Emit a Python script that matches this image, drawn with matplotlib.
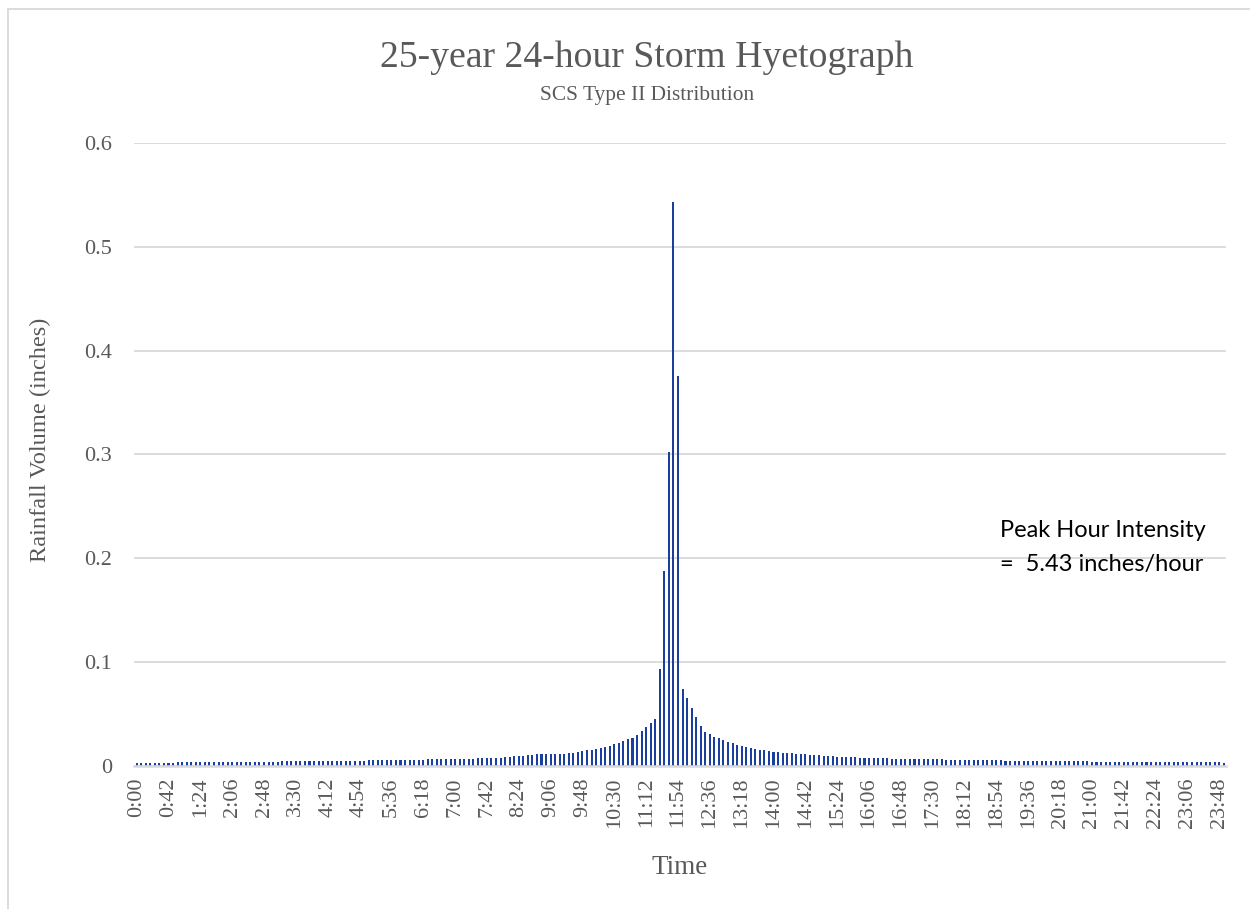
import matplotlib
matplotlib.use("Agg")
import matplotlib.pyplot as plt
import numpy as np
from matplotlib.patches import Rectangle

# 6-minute rainfall depths (inches), 0:00 .. 23:54
rainfall = [
    0.0030, 0.0030, 0.0030, 0.0031, 0.0031, 0.0032, 0.0032, 0.0033, 0.0033, 0.0034,
    0.0034, 0.0035, 0.0035, 0.0036, 0.0036, 0.0037, 0.0037, 0.0037, 0.0038, 0.0038,
    0.0039, 0.0039, 0.0039, 0.0040, 0.0040, 0.0040, 0.0041, 0.0041, 0.0042, 0.0042,
    0.0043, 0.0043, 0.0044, 0.0044, 0.0044, 0.0045, 0.0045, 0.0046, 0.0046, 0.0047,
    0.0047, 0.0048, 0.0048, 0.0049, 0.0049, 0.0050, 0.0050, 0.0051, 0.0052, 0.0052,
    0.0053, 0.0054, 0.0054, 0.0055, 0.0056, 0.0056, 0.0057, 0.0058, 0.0059, 0.0059,
    0.0060, 0.0061, 0.0062, 0.0062, 0.0063, 0.0064, 0.0065, 0.0066, 0.0067, 0.0067,
    0.0068, 0.0069, 0.0070, 0.0071, 0.0072, 0.0073, 0.0074, 0.0075, 0.0076, 0.0078,
    0.0081, 0.0084, 0.0088, 0.0092, 0.0096, 0.0100, 0.0105, 0.0110, 0.0114, 0.0115,
    0.0116, 0.0116, 0.0116, 0.0116, 0.0117, 0.0123, 0.0129, 0.0135, 0.0142, 0.0151,
    0.0158, 0.0167, 0.0177, 0.0187, 0.0195, 0.0209, 0.0223, 0.0242, 0.0258, 0.0272,
    0.0297, 0.0335, 0.0374, 0.0413, 0.0450, 0.0939, 0.1876, 0.3020, 0.5430, 0.3760,
    0.0745, 0.0655, 0.0561, 0.0472, 0.0385, 0.0330, 0.0304, 0.0284, 0.0265, 0.0246,
    0.0230, 0.0217, 0.0206, 0.0194, 0.0185, 0.0176, 0.0166, 0.0156, 0.0150, 0.0143,
    0.0137, 0.0133, 0.0128, 0.0125, 0.0122, 0.0119, 0.0116, 0.0113, 0.0110, 0.0107,
    0.0104, 0.0099, 0.0097, 0.0094, 0.0091, 0.0089, 0.0087, 0.0085, 0.0083, 0.0081,
    0.0080, 0.0079, 0.0077, 0.0076, 0.0075, 0.0074, 0.0072, 0.0071, 0.0070, 0.0069,
    0.0068, 0.0067, 0.0066, 0.0066, 0.0065, 0.0064, 0.0063, 0.0063, 0.0062, 0.0061,
    0.0060, 0.0060, 0.0059, 0.0058, 0.0058, 0.0057, 0.0056, 0.0056, 0.0055, 0.0055,
    0.0054, 0.0053, 0.0053, 0.0052, 0.0052, 0.0051, 0.0050, 0.0050, 0.0049, 0.0049,
    0.0048, 0.0048, 0.0047, 0.0047, 0.0046, 0.0046, 0.0045, 0.0045, 0.0044, 0.0044,
    0.0043, 0.0043, 0.0043, 0.0042, 0.0042, 0.0041, 0.0041, 0.0041, 0.0040, 0.0040,
    0.0039, 0.0039, 0.0039, 0.0038, 0.0038, 0.0038, 0.0037, 0.0037, 0.0037, 0.0036,
    0.0036, 0.0036, 0.0035, 0.0035, 0.0035, 0.0034, 0.0034, 0.0034, 0.0034, 0.0033,
]

# category labels: start of each 6-minute interval
times = ["%d:%02d" % divmod(m, 60) for m in range(0, 24 * 60, 6)]
label_step = 7
y_ticks = [0, 0.1, 0.2, 0.3, 0.4, 0.5, 0.6]
y_ticklabels = ["0", "0.1", "0.2", "0.3", "0.4", "0.5", "0.6"]

title = "25-year 24-hour Storm Hyetograph"
subtitle = "SCS Type II Distribution"
note = ["Peak Hour Intensity", "=  5.43 inches/hour"]

serif = ["Liberation Serif", "DejaVu Serif"]
sans = ["Lato", "DejaVu Sans"]
grey = "#595959"
grid_col = "#d9d9d9"
bar_col = "#1b3f9e"

fig = plt.figure(figsize=(12.5, 9.09), dpi=100)
ax = fig.add_axes([0.1075, 0.1573, 0.8734, 0.6854])

x = np.arange(len(rainfall))
ax.bar(x, rainfall, width=0.45, color=bar_col, zorder=3)

ax.set_xlim(-0.5, len(rainfall) - 0.5)
ax.set_ylim(0, 0.6)
ax.set_yticks(y_ticks)
ax.set_yticklabels(y_ticklabels, family=serif, fontsize=16, color=grey)
ax.set_xticks(x[::label_step])
ax.set_xticklabels(times[::label_step], rotation=90, family=serif,
                   fontsize=16, color=grey)
ax.tick_params(axis="y", length=0, pad=16)
ax.tick_params(axis="x", length=0, pad=8)

ax.grid(axis="y", color=grid_col, linewidth=1.3, zorder=0)
for s in ["left", "right", "top"]:
    ax.spines[s].set_visible(False)
ax.spines["bottom"].set_color(grid_col)
ax.spines["bottom"].set_linewidth(1.8)
ax.spines["bottom"].set_zorder(4)

fig.text(0.032, 0.516, "Rainfall Volume (inches)", family=serif, fontsize=17.6,
         color=grey, rotation=90, ha="center", va="center")
fig.text(0.544, 0.046, "Time", family=serif, fontsize=19.5, color=grey,
         ha="center", va="center")

fig.text(0.5176, 0.937, title, family=serif, fontsize=27.2, color=grey,
         ha="center", va="center")
fig.text(0.5176, 0.8945, subtitle, family=serif, fontsize=15.4, color=grey,
         ha="center", va="center")

fig.text(0.8, 0.4088, note[0], family=sans, fontsize=17, color="black",
         ha="left", va="baseline")
fig.text(0.8, 0.3718, note[1], family=sans, fontsize=17, color="black",
         ha="left", va="baseline")

# chart border
fig.patches.append(Rectangle((8 / 1250, -0.01), 1.1, 1 - 9 / 909 + 0.01,
                             transform=fig.transFigure, fill=False,
                             edgecolor=grid_col, linewidth=1.3))

fig.savefig("out.png", dpi=100)
